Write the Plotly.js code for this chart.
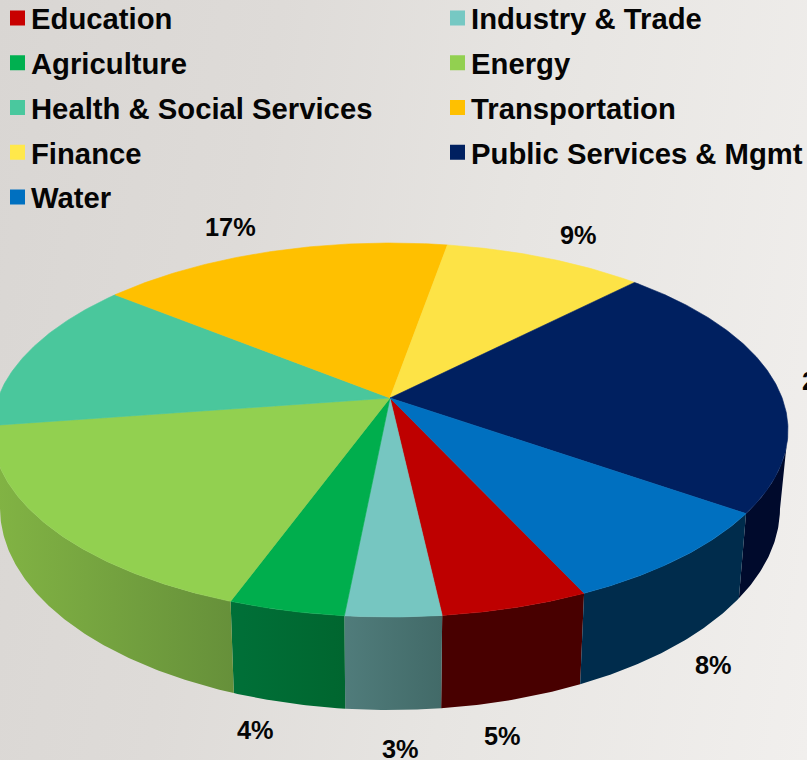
<!DOCTYPE html>
<html>
<head>
<meta charset="utf-8">
<script src="https://cdn.plot.ly/plotly-3.0.1.min.js"></script>
<style>
html,body{margin:0;padding:0;width:807px;height:760px;overflow:hidden;
background:linear-gradient(100deg,#d9d6d3 0%,#dedbd8 30%,#e7e5e2 60%,#f1efed 100%);}
#chart{width:807px;height:760px;}
</style>
</head>
<body>
<div id="chart"></div>
<script>
// Data, clockwise from the Education slice
const categories = ["Education","Industry & Trade","Agriculture","Energy","Health & Social Services","Transportation","Finance","Public Services & Mgmt","Water"];
const shares = [5.1,3.3,4.0,17.1,13.2,16.9,9.6,22.4,8.4];
const shareLabels = ["5%","3%","4%","","13%","17%","9%","22%","8%"];

// Styles
const topColors = ["#BE0000","#76C6C1","#00AE4D","#92D050","#4AC79C","#FFC000","#FDE346","#002060","#0070C0"];
const swatchColors = ["#C80000","#76C8C3","#00B050","#92D050","#4AC89E","#FFC000","#FFE84A","#002060","#0070C0"];
const wallLeft = ["#480000","#507C7B","#007038","#82B444","#2a7a60","#a07800","#a09030","#000A2C","#002C4C"];
const wallRight = ["#480000","#426A68","#00662F","#66903A","#2a7a60","#a07800","#a09030","#000A2C","#002C4C"];
const legendColumn = ["legend","legend2","legend","legend2","legend","legend2","legend","legend2","legend"];
const labelX = [502,400,255,null,2,230,578,800,713];
const labelY = [736,749,730,null,355,227,235,381,665];
const labelAnchor = ["center","center","center","center","right","center","center","left","center"];

// Projection of the disc
const startAngle = 155.3, squeeze = 0.841;
const topDisc = {cx:390, cy:430, rx:398, ry:187};
const baseDisc = {cx:390, cy:508, rx:390, ry:202};
const apex = {x:390, y:398};

function project(deg){
  const h = deg*Math.PI/360, c = Math.cos(h), s = squeeze*Math.sin(h), n = c*c+s*s;
  return {sin:2*c*s/n, cos:(c*c-s*s)/n};
}
const onDisc = (d,p)=>({x:d.cx+d.rx*p.sin, y:d.cy-d.ry*p.cos});

const total = shares.reduce((a,b)=>a+b,0);
const walls = [], faces = [], swatches = [];
let angle = startAngle;
categories.forEach((name,i)=>{
  const span = shares[i]/total*360, steps = Math.ceil(span*2);
  const arc = [];
  for(let j=0;j<=steps;j++) arc.push(project(angle+span*j/steps));
  angle += span;

  const front = arc.filter(p=>p.cos<=0);
  if(front.length>1){
    const t = front.map(p=>onDisc(topDisc,p)), b = front.map(p=>onDisc(baseDisc,p)).reverse();
    walls.push({type:"scatter",mode:"lines",showlegend:false,hoverinfo:"skip",
      x:t.concat(b).map(p=>p.x), y:t.concat(b).map(p=>p.y),
      fill:"toself",
      fillgradient:{type:"horizontal",colorscale:[[0,wallLeft[i]],[1,wallRight[i]]]},
      line:{width:0,color:wallRight[i]}});
  }
  const rim = arc.map(p=>onDisc(topDisc,p));
  faces.push({type:"scatter",mode:"lines",showlegend:false,name:name,hoverinfo:"skip",
    x:[apex.x].concat(rim.map(p=>p.x),[apex.x]),
    y:[apex.y].concat(rim.map(p=>p.y),[apex.y]),
    fill:"toself",fillcolor:topColors[i],line:{width:0.6,color:topColors[i]}});
  swatches.push({type:"scatter",mode:"markers",name:name,x:[null],y:[null],
    legend:legendColumn[i],legendgroup:name,
    marker:{symbol:"square",size:15,color:swatchColors[i]}});
});

const labelFont = {family:"Liberation Sans, Arial, sans-serif",size:25.3,color:"#050505",weight:700};
const annotations = shareLabels.map((t,i)=>({text:t,x:labelX[i],y:labelY[i],xref:"x",yref:"y",
  showarrow:false,xanchor:labelAnchor[i],yanchor:"middle",font:labelFont})).filter(a=>a.text);

const legendFont = {family:"Liberation Sans, Arial, sans-serif",size:29.25,color:"#050505",weight:700};
const legendBase = {bgcolor:"rgba(0,0,0,0)",borderwidth:0,font:legendFont,tracegroupgap:3.7,
  xanchor:"left",yanchor:"top",itemclick:false,itemdoubleclick:false};

const layout = {
  width:807,height:760,
  margin:{l:0,r:0,t:0,b:0,pad:0,autoexpand:false},
  paper_bgcolor:"rgba(0,0,0,0)",plot_bgcolor:"rgba(0,0,0,0)",
  xaxis:{range:[0,807],visible:false,fixedrange:true},
  yaxis:{range:[760,0],visible:false,fixedrange:true},
  showlegend:true,
  legend:Object.assign({},legendBase,{x:-9/807,y:1+7.5/760}),
  legend2:Object.assign({},legendBase,{x:431/807,y:1+7.5/760}),
  annotations:annotations
};

Plotly.newPlot("chart",walls.concat(faces,swatches),layout,{displayModeBar:false,staticPlot:true}).then(()=>{
  // bring each swatch closer to its label
  document.querySelectorAll("#chart .legendsymbols").forEach(s=>s.setAttribute("transform","translate(6.5,0)"));
});
</script>
</body>
</html>
